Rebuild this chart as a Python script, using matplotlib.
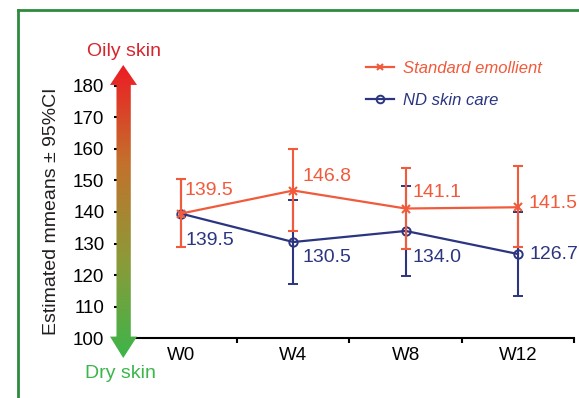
import numpy as np
import matplotlib
matplotlib.use('Agg')
import matplotlib.pyplot as plt
from matplotlib.colors import LinearSegmentedColormap
from matplotlib.patches import Polygon
from matplotlib.lines import Line2D

plt.rcParams['font.family'] = ['Liberation Sans', 'DejaVu Sans']

# Data
weeks = ['W0', 'W4', 'W8', 'W12']
std_mean = [139.5, 146.8, 141.1, 141.5]
std_lo = [128.9, 133.9, 128.4, 128.8]
std_hi = [150.3, 159.9, 154.0, 154.4]
nd_mean = [139.5, 130.5, 134.0, 126.7]
nd_lo = [128.9, 117.3, 119.9, 113.3]
nd_hi = [150.3, 143.8, 148.2, 140.1]
yticks = [100, 110, 120, 130, 140, 150, 160, 170, 180]

# label offsets (pixels) for the value annotations
std_off = [(4, 23), (9, 14), (7, 16), (10, 4)]
nd_off = [(5, -27), (9, -15), (7, -27), (11, 0)]

RED = '#f15a3b'
NAVY = '#2b3580'

W, H = 579, 398
fig = plt.figure(figsize=(W / 100, H / 100), dpi=100)

# main axes, placed in pixel terms
ax = fig.add_axes([117 / W, (H - 338.4) / H, (574.2 - 117) / W, (338.4 - 85.6) / H])
x = np.arange(len(weeks))

std_err = [np.array(std_mean) - np.array(std_lo), np.array(std_hi) - np.array(std_mean)]
nd_err = [np.array(nd_mean) - np.array(nd_lo), np.array(nd_hi) - np.array(nd_mean)]

ax.errorbar(x, nd_mean, yerr=nd_err, color=NAVY, lw=1.6, elinewidth=1.5, capsize=3.5,
            capthick=1.5, marker='o', ms=6, mfc='none', mew=1.4, zorder=3)
ax.errorbar(x, std_mean, yerr=std_err, color=RED, lw=1.6, elinewidth=1.5, capsize=3.5,
            capthick=1.5, marker='x', ms=6, mew=1.5, zorder=4)

for i in range(len(weeks)):
    ax.annotate(f'{std_mean[i]:.1f}', (x[i], std_mean[i]), xytext=std_off[i],
                textcoords='offset pixels', ha='left', va='center', color=RED, fontsize=14)
    ax.annotate(f'{nd_mean[i]:.1f}', (x[i], nd_mean[i]), xytext=nd_off[i],
                textcoords='offset pixels', ha='left', va='center', color=NAVY, fontsize=14)

ax.set_xlim(-0.569, 3.5)
ax.set_ylim(100, 180)
ax.set_yticks(yticks)
ax.set_xticks(x)
ax.set_xticklabels(weeks)
ax.set_xticks([0.5, 1.5, 2.5, 3.5], minor=True)
ax.tick_params(axis='x', which='major', length=0, pad=6.5, labelsize=13.5)
ax.tick_params(axis='x', which='minor', length=3.8, width=1.5, direction='out')
ax.tick_params(axis='y', length=2.5, width=1.5, pad=6.5, labelsize=13.5)
for s in ['top', 'right', 'left']:
    ax.spines[s].set_visible(False)
ax.spines['bottom'].set_linewidth(1.5)

handles = [Line2D([], [], color=RED, lw=1.6, marker='x', ms=5, mew=1.5),
           Line2D([], [], color=NAVY, lw=1.6, marker='o', ms=5.5, mfc='none', mew=1.4)]
leg = ax.legend(handles, ['Standard emollient', 'ND skin care'], loc='upper left', frameon=False,
                bbox_to_anchor=(366 / W, 1 - 61 / H), bbox_transform=fig.transFigure,
                prop={'style': 'italic', 'size': 12}, handlelength=1.7, handletextpad=0.5,
                labelspacing=1.0, borderpad=0, borderaxespad=0)
for t, c in zip(leg.get_texts(), [RED, NAVY]):
    t.set_color(c)

# gradient arrow used as the y axis
axa = fig.add_axes([110 / W, (H - 358) / H, 27 / W, 293 / H])
axa.set_axis_off()
cmap = LinearSegmentedColormap.from_list('skin', ['#3cb54a', '#8c9a38', '#c3712c', '#ed1c24'])
grad = np.linspace(0, 1, 256).reshape(-1, 1)
img = axa.imshow(grad, cmap=cmap, extent=[0, 1, 0, 1], origin='lower', aspect='auto')
axa.set_xlim(0, 1)
axa.set_ylim(0, 1)
shape = Polygon([(0.49, 1.0), (1.0, 0.932), (0.77, 0.932), (0.77, 0.073), (1.0, 0.073),
                 (0.49, 0.0), (0.0, 0.073), (0.24, 0.073), (0.24, 0.932), (0.0, 0.932)],
                closed=True, transform=axa.transData, facecolor='none', edgecolor='none')
axa.add_patch(shape)
img.set_clip_path(shape)

fig.text(124.5 / W, 1 - 52 / H, 'Oily skin', color='#d7252d', fontsize=14, ha='center', va='center')
fig.text(120 / W, 1 - 373 / H, 'Dry skin', color='#3cb54a', fontsize=14, ha='center', va='center')
fig.text(52 / W, 1 - 211 / H, 'Estimated mmeans ± 95%CI', rotation=90, fontsize=14,
         ha='center', va='center', color='#231f20')

# green panel frame
fig.add_artist(Line2D([18 / W, 1.0], [1 - 10 / H, 1 - 10 / H], color='#2e8b3e', lw=2,
                      transform=fig.transFigure))
fig.add_artist(Line2D([18 / W, 18 / W], [0, 1 - 10 / H], color='#2e8b3e', lw=2,
                      transform=fig.transFigure))

fig.savefig('out.png', dpi=100)
